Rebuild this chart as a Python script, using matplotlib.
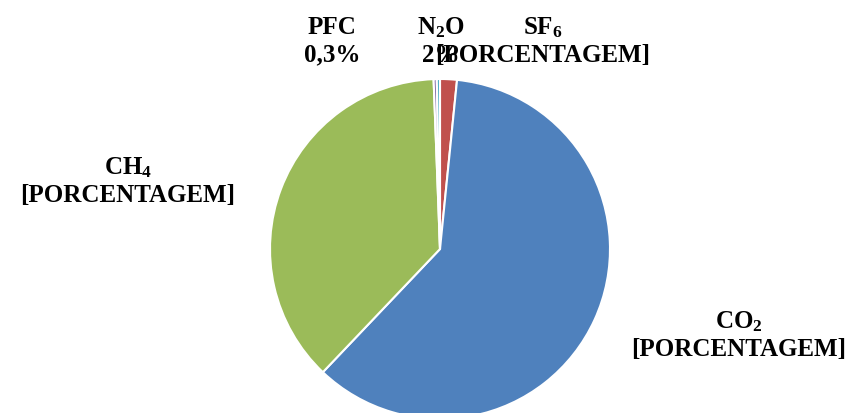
import matplotlib
matplotlib.use("Agg")
import matplotlib.pyplot as plt

# Data (clockwise from 12 o'clock)
gases = ["SF6", "CO2", "CH4", "N2O", "PFC"]
shares = [1.6, 60.5, 37.3, 0.3, 0.3]
colors = ["#C0504D", "#4F81BD", "#9BBB59", "#8064A2", "#4BACC6"]
label_titles = [r"SF$_6$", r"CO$_2$", r"CH$_4$", r"N$_2$O", "PFC"]
label_values = ["[PORCENTAGEM]", "[PORCENTAGEM]", "[PORCENTAGEM]", "2%", "0,3%"]

plt.rcParams["font.family"] = ["Liberation Serif", "DejaVu Serif"]
plt.rcParams["mathtext.fontset"] = "custom"
plt.rcParams["mathtext.rm"] = "Liberation Serif:bold"
plt.rcParams["mathtext.it"] = "Liberation Serif:bold"
plt.rcParams["mathtext.bf"] = "Liberation Serif:bold"

W, H = 851, 414
fig = plt.figure(figsize=(W / 100, H / 100), dpi=100)
cx, cy, r = 440, 250, 170
ax = fig.add_axes([(cx - r) / W, (H - cy - r) / H, 2 * r / W, 2 * r / H])
ax.pie(shares, colors=colors, startangle=90, counterclock=False,
       wedgeprops=dict(edgecolor="white", linewidth=1.5))
ax.set_xlim(-1, 1)
ax.set_ylim(-1, 1)
ax.set_aspect("equal")
ax.axis("off")

# label positions in pixels (center of two-line block)
label_pos = {"SF6": (543, 41), "CO2": (739, 335), "CH4": (128, 181),
             "N2O": (441, 41), "PFC": (332, 41)}
for g, t, v in zip(gases, label_titles, label_values):
    x, y = label_pos[g]
    fig.text(x / W, 1 - y / H, t + "\n" + v, ha="center", va="center",
             fontsize=18, fontweight="bold", linespacing=1.25, color="black")

fig.savefig("out.png", dpi=100)
